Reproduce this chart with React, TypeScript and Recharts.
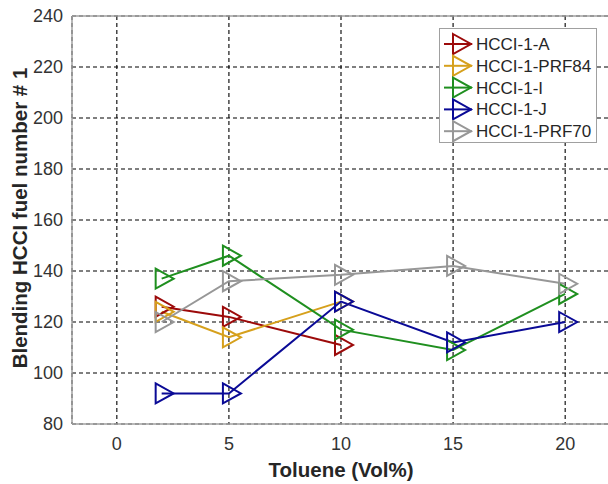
import React from 'react';
import { LineChart, Line, XAxis, YAxis, CartesianGrid, ReferenceLine, Legend, Label } from 'recharts';

const toluene = [2, 5, 10, 15, 20];
const hcci1A = [126, 122, 111, null, null];
const hcci1PRF84 = [124, 114, 128, null, null];
const hcci1I = [137, 146, 117, 109, 131];
const hcci1J = [92, 92, 128, 112, 120];
const hcci1PRF70 = [120, 136, 138.5, 142, 135];

const xTicks = [0, 5, 10, 15, 20];
const yTicks = [80, 100, 120, 140, 160, 180, 200, 220, 240];

const seriesDefs = [
  { key: 'A', name: 'HCCI-1-A', values: hcci1A, color: '#9c0a0a' },
  { key: 'PRF84', name: 'HCCI-1-PRF84', values: hcci1PRF84, color: '#d6a01c' },
  { key: 'I', name: 'HCCI-1-I', values: hcci1I, color: '#1f8f1f' },
  { key: 'J', name: 'HCCI-1-J', values: hcci1J, color: '#0a0a96' },
  { key: 'PRF70', name: 'HCCI-1-PRF70', values: hcci1PRF70, color: '#979797' },
];

const data = toluene.map((x, i) => {
  const row: any = { x };
  seriesDefs.forEach((s) => {
    row[s.key] = s.values[i];
  });
  return row;
});

const triPath = (cx: number, cy: number) =>
  `M${cx - 6},${cy - 10} L${cx + 12},${cy} L${cx - 6},${cy + 10} Z`;

const makeDot = (color: string) => (props: any) => {
  const { cx, cy, index, value } = props;
  if (value == null || cx == null || cy == null || isNaN(cy)) return <g key={`d-${index}`} />;
  return (
    <path
      key={`d-${index}`}
      d={triPath(cx, cy)}
      fill="none"
      stroke={color}
      strokeWidth={2}
    />
  );
};

const renderLegend = () => (
  <div
    style={{
      width: 158,
      height: 115,
      boxSizing: 'border-box',
      border: '1px solid #a0a0a0',
      background: '#fff',
      position: 'relative',
    }}
  >
    <svg width={158} height={115} style={{ position: 'absolute', left: 0, top: 0 }}>
      {seriesDefs.map((s, i) => {
        const cy = 15 + i * 21.8;
        const cx = 19;
        return (
          <g key={s.key}>
            <line x1={4} x2={32} y1={cy} y2={cy} stroke={s.color} strokeWidth={2} />
            <path d={triPath(cx, cy)} fill="none" stroke={s.color} strokeWidth={2} />
            <text
              x={36}
              y={cy + 6}
              fontFamily="Liberation Sans, Arial, sans-serif"
              fontSize={17}
              fill="#262626"
            >
              {s.name}
            </text>
          </g>
        );
      })}
    </svg>
  </div>
);

export default function App() {
  return (
    <div style={{ position: 'absolute', left: 0, top: 0, width: 608, height: 484, overflow: 'hidden', background: '#fff' }}>
      <LineChart
        width={612}
        height={484}
        data={data}
        margin={{ top: 16, right: 2, bottom: 0, left: 0 }}
      >
        <CartesianGrid stroke="#000" strokeDasharray="4 3" strokeWidth={1.1} />
        <XAxis
          dataKey="x"
          type="number"
          domain={[-2, 22]}
          ticks={xTicks}
          allowDataOverflow
          height={60}
          tickLine={false}
          tickSize={6}
          tickMargin={7}
          axisLine={{ stroke: '#a0a0a0', strokeWidth: 1.5 }}
          tick={{ fill: '#333', fontSize: 18, fontFamily: 'Liberation Sans, Arial, sans-serif' }}
        >
          <Label
            content={() => (
              <text
                x={341}
                y={477}
                textAnchor="middle"
                fontFamily="Liberation Sans, Arial, sans-serif"
                fontWeight="bold"
                fontSize={20.5}
                fill="#262626"
              >
                Toluene (Vol%)
              </text>
            )}
          />
        </XAxis>
        <YAxis
          type="number"
          domain={[80, 240]}
          ticks={yTicks}
          allowDataOverflow
          width={72}
          tickLine={false}
          tickSize={6}
          tickMargin={3}
          axisLine={{ stroke: '#a0a0a0', strokeWidth: 1.5 }}
          tick={{ fill: '#333', fontSize: 18, fontFamily: 'Liberation Sans, Arial, sans-serif' }}
        >
          <Label
            content={() => (
              <text
                x={27}
                y={218}
                transform="rotate(-90, 27, 218)"
                textAnchor="middle"
                fontFamily="Liberation Sans, Arial, sans-serif"
                fontWeight="bold"
                fontSize={20.5}
                fill="#262626"
              >
                Blending HCCI fuel number # 1
              </text>
            )}
          />
        </YAxis>
        <ReferenceLine y={240} stroke="#a0a0a0" strokeWidth={1.5} />
        {seriesDefs.map((s) => (
          <Line
            key={s.key}
            dataKey={s.key}
            name={s.name}
            type="linear"
            stroke={s.color}
            strokeWidth={2}
            dot={makeDot(s.color)}
            activeDot={false}
            isAnimationActive={false}
          />
        ))}
        <Legend
          layout="vertical"
          align="center"
          verticalAlign="middle"
          content={renderLegend}
          wrapperStyle={{ left: 439, top: 28, width: 158, height: 115 }}
        />
      </LineChart>
    </div>
  );
}
